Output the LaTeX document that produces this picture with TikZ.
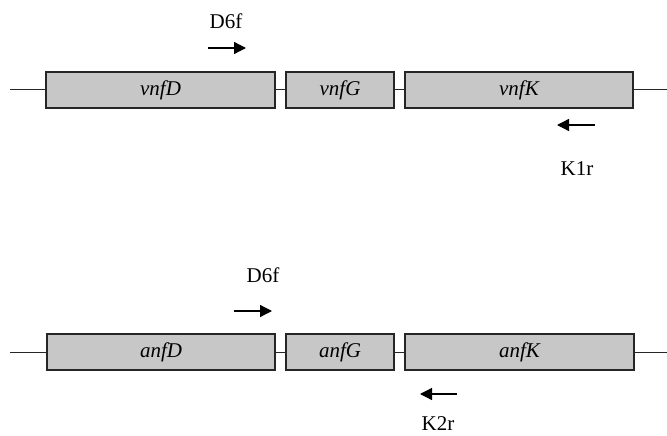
\documentclass[tikz,border=0pt]{standalone}
\usepackage{fontspec}
\setmainfont{Liberation Serif}
\usetikzlibrary{arrows.meta,positioning}

\begin{document}
\begin{tikzpicture}[
  x=1pt, y=-1pt,
  font=\fontsize{21}{24}\selectfont,
  >={Triangle[length=12pt,width=12pt]},
  gene/.style={rectangle, draw=black!85, line width=1.3pt, fill=black!22, minimum height=36pt, inner sep=0pt, font=\fontsize{21}{24}\selectfont\itshape},
  dna/.style={line width=1pt, black!85},
  primer/.style={->, line width=1.3pt},
  lab/.style={inner sep=0pt},
]
\useasboundingbox (0,0) rectangle (667,436);

% vnf cluster
\node[gene, minimum width=229pt] (vnfD) at (160.5,90) {vnfD};
\node[gene, minimum width=108pt] (vnfG) at (340,90) {vnfG};
\node[gene, minimum width=228pt] (vnfK) at (519,90) {vnfK};
\coordinate (vL) at (10,90);
\coordinate (vR) at (667,90);
\draw[dna] (vL) -- (vnfD.west);
\draw[dna] (vnfD.east) -- (vnfG.west);
\draw[dna] (vnfG.east) -- (vnfK.west);
\draw[dna] (vnfK.east) -- (vR);

\coordinate (d6a) at (208,48);
\coordinate (d6b) at (246,48);
\draw[primer] (d6a) -- (d6b);
\node[lab] (D6f) at (226,21) {D6f};
\coordinate (k1a) at (595,125);
\coordinate (k1b) at (557,125);
\draw[primer] (k1a) -- (k1b);
\node[lab] (K1r) at (577,169) {K1r};

% anf cluster
\node[gene, minimum width=228pt] (anfD) at (161,352) {anfD};
\node[gene, minimum width=108pt] (anfG) at (340,352) {anfG};
\node[gene, minimum width=229pt] (anfK) at (519.5,352) {anfK};
\coordinate (aL) at (10,352);
\coordinate (aR) at (667,352);
\draw[dna] (aL) -- (anfD.west);
\draw[dna] (anfD.east) -- (anfG.west);
\draw[dna] (anfG.east) -- (anfK.west);
\draw[dna] (anfK.east) -- (aR);

\coordinate (d6c) at (234,311);
\coordinate (d6d) at (272,311);
\draw[primer] (d6c) -- (d6d);
\node[lab] (D6f2) at (263,275) {D6f};
\coordinate (k2a) at (457,394);
\coordinate (k2b) at (420,394);
\draw[primer] (k2a) -- (k2b);
\node[lab] (K2r) at (438,424) {K2r};
\end{tikzpicture}
\end{document}
